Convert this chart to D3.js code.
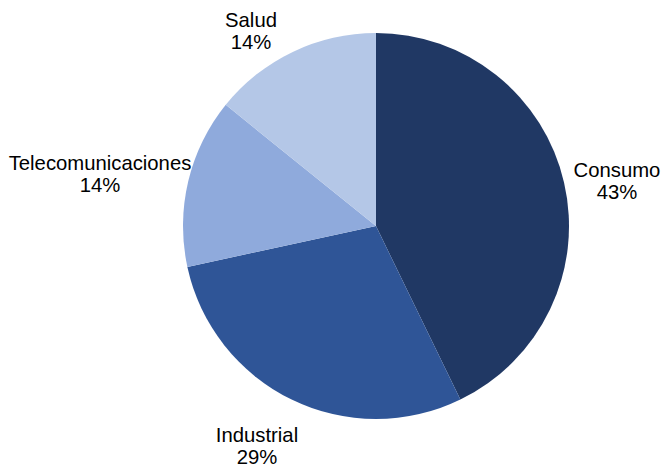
<!DOCTYPE html>
<html><head><meta charset="utf-8">
<script src="https://cdn.jsdelivr.net/npm/d3@7"></script>
<style>body{margin:0;background:#fff}svg{display:block}</style>
</head><body>
<svg id="c" width="664" height="466"></svg>
<script>
const categories = ["Consumo", "Industrial", "Telecomunicaciones", "Salud"];
const values = [42.8, 28.8, 14.2, 14.2];
const labels = ["43%", "29%", "14%", "14%"];
const colors = ["#203864", "#2F5597", "#8FAADC", "#B4C7E7"];
// label anchor positions (layout)
const labelPos = [[617,177],[257,442],[100,170],[251,27]];

const svg = d3.select("#c");
const cx = 376, cy = 226, r = 193;
const g = svg.append("g").attr("transform", `translate(${cx},${cy})`);
const pie = d3.pie().sort(null).value(d => d)(values);
const arc = d3.arc().innerRadius(0).outerRadius(r);
g.selectAll("path").data(pie).join("path")
  .attr("d", arc).attr("fill", (d,i) => colors[i]);

const t = svg.selectAll("text.l").data(categories).join("text")
  .attr("class","l")
  .attr("text-anchor","middle")
  .attr("font-family","Liberation Sans, Arial, sans-serif")
  .attr("font-size", 20.3).attr("fill","#000");
t.each(function(d,i){
  const s = d3.select(this);
  s.append("tspan").attr("x", labelPos[i][0]).attr("y", labelPos[i][1]).text(d);
  s.append("tspan").attr("x", labelPos[i][0]).attr("y", labelPos[i][1]+22).text(labels[i]);
});
</script>
</body></html>
